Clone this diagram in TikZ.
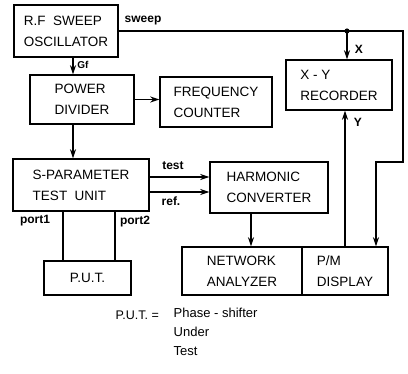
\documentclass[tikz,border=0pt]{standalone}
\usepackage{fontspec}
\setmainfont{Liberation Sans}
\usetikzlibrary{arrows.meta}
\begin{document}
\begin{tikzpicture}[x=1pt, y=-1pt, >={Stealth[length=9pt,width=6pt]}, line width=1.4pt,
    blk/.style={draw, align=left, inner sep=2pt, font=\fontsize{13.5}{21}\selectfont},
    lbl/.style={font=\fontsize{12}{14}\selectfont\bfseries, inner sep=1pt}]
        \useasboundingbox (0,0) rectangle (408,374);
        % blocks
        \node[blk, minimum width=104pt, minimum height=52pt] (osc) at (66,31) {R.F\ \ SWEEP\\OSCILLATOR};
        \node[blk, minimum width=104pt, minimum height=49pt] (pd) at (82,99.5) {POWER\\DIVIDER};
        \node[blk, minimum width=112pt, minimum height=50pt] (fc) at (216,102) {FREQUENCY\\COUNTER};
        \node[blk, minimum width=136pt, minimum height=52pt] (sp) at (81,185) {S-PARAMETER\\TEST\ \ UNIT};
        \node[blk, minimum width=118pt, minimum height=51pt] (hc) at (269,187.5) {HARMONIC\\CONVERTER};
        \node[blk, minimum width=106pt, minimum height=50pt] (xy) at (339,85) {X - Y\\RECORDER};
        \node[blk, minimum width=120pt, minimum height=48pt] (na) at (242,271) {NETWORK\\ANALYZER};
        \node[blk, minimum width=86pt, minimum height=48pt] (pm) at (345,271) {P/M\\DISPLAY};
        \node[blk, minimum width=87pt, minimum height=34pt] (put) at (87.5,278) {P.U.T.};
        % sweep line
        \coordinate (sw1) at (403,31);
        \coordinate (sw2) at (403,162);
        \coordinate (sw3) at (376,162);
        \coordinate (jx) at (347,31);
        \draw[->] (osc.east) -- (sw1) -- (sw2) -- (sw3) -- (sw3 |- pm.north);
        \fill (jx) circle (2.6pt);
        \draw[->] (jx) -- (jx |- xy.north);
        \draw[->] (pm.north) -- (pm.north |- xy.south);
        % signal path
        \draw[->] ([xshift=7pt]osc.south) -- ([xshift=-9pt]pd.north);
        \draw[->] ([xshift=-9pt]pd.south) -- ([xshift=-8pt]sp.north);
        \draw[->] (pd.east) -- (pd.east -| fc.west);
        \draw[->] ([yshift=8pt]sp.east) -- ([yshift=8pt]sp.east -| hc.west);
        \draw[->] ([yshift=-7pt]sp.east) -- ([yshift=-7pt]sp.east -| hc.west);
        \draw[->] ([xshift=-18pt]hc.south) -- ([xshift=-18pt]hc.south |- na.north);
        \draw ([xshift=-18pt]sp.south) -- ([xshift=-18pt]sp.south |- put.north);
        \draw ([xshift=34pt]sp.south) -- ([xshift=34pt]sp.south |- put.north);
        % labels
        \node[lbl] (lsweep) at (143,21) {sweep};
        \node[lbl, font=\fontsize{10}{12}\selectfont\bfseries] (lgf) at (83,65) {Gf};
        \node[lbl] (lx) at (359,49) {X};
        \node[lbl] (ly) at (358,122) {Y};
        \node[lbl] (ltest) at (173,166) {test};
        \node[lbl] (lref) at (171,201) {ref.};
        \node[lbl] (lp1) at (35,221) {port1};
        \node[lbl] (lp2) at (135,222) {port2};
        \node[font=\fontsize{12.5}{14}\selectfont, anchor=west, inner sep=0pt] (leg) at (115,315) {P.U.T. =};
        \node[font=\fontsize{13}{19}\selectfont, anchor=north west, align=left, inner sep=0pt] (legt) at (173,307) {Phase - shifter\\Under\\Test};
    \end{tikzpicture}
\end{document}
